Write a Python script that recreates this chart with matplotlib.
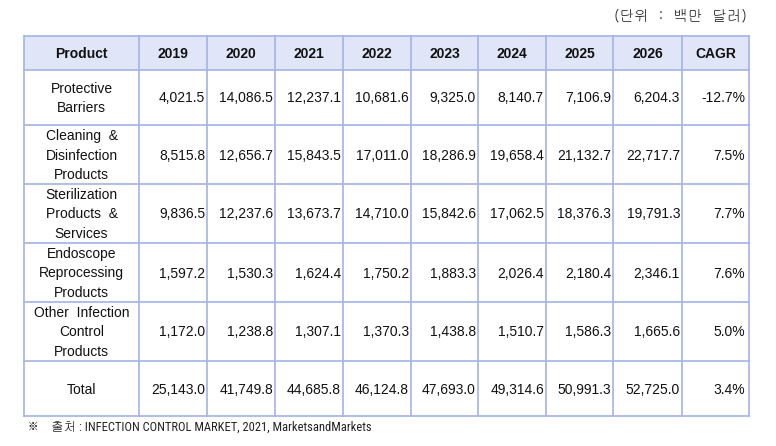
import matplotlib
matplotlib.use("Agg")
import matplotlib.pyplot as plt
from matplotlib.patches import Rectangle

products = ["Protective\nBarriers", "Cleaning  &\nDisinfection\nProducts",
            "Sterilization\nProducts  &\nServices", "Endoscope\nReprocessing\nProducts",
            "Other  Infection\nControl\nProducts", "Total"]
years = ["2019", "2020", "2021", "2022", "2023", "2024", "2025", "2026"]
values = [
    [4021.5, 14086.5, 12237.1, 10681.6, 9325.0, 8140.7, 7106.9, 6204.3],
    [8515.8, 12656.7, 15843.5, 17011.0, 18286.9, 19658.4, 21132.7, 22717.7],
    [9836.5, 12237.6, 13673.7, 14710.0, 15842.6, 17062.5, 18376.3, 19791.3],
    [1597.2, 1530.3, 1624.4, 1750.2, 1883.3, 2026.4, 2180.4, 2346.1],
    [1172.0, 1238.8, 1307.1, 1370.3, 1438.8, 1510.7, 1586.3, 1665.6],
    [25143.0, 41749.8, 44685.8, 46124.8, 47693.0, 49314.6, 50991.3, 52725.0],
]
cagr = ["-12.7%", "7.5%", "7.7%", "7.6%", "5.0%", "3.4%"]
header = ["Product"] + years + ["CAGR"]
unit_note = "(단위  :  백만  달러)"
source_note = "※    출처 : INFECTION CONTROL MARKET, 2021, MarketsandMarkets"

col_x = [24, 139, 207, 275, 343, 411, 478, 546, 613, 682, 749]
row_y = [36, 70, 125, 184, 243, 302, 361, 416]
border = "#a3b3e6"
head_fill = "#e0e6f8"
fam = "Liberation Sans"

fig = plt.figure(figsize=(7.76, 4.46), dpi=100)
ax = fig.add_axes([0, 0, 1, 1])
ax.set_xlim(0, 776)
ax.set_ylim(446, 0)
ax.axis("off")

ax.add_patch(Rectangle((col_x[0], row_y[0]), col_x[-1] - col_x[0], row_y[1] - row_y[0],
                       facecolor=head_fill, edgecolor="none", zorder=0))
for x in col_x:
    ax.plot([x, x], [row_y[0], row_y[-1]], color=border, lw=1.2, zorder=2)
for y in row_y:
    ax.plot([col_x[0], col_x[-1]], [y, y], color=border, lw=1.2, zorder=2)

for i, h in enumerate(header):
    cx = (col_x[i] + col_x[i + 1]) / 2
    cy = (row_y[0] + row_y[1]) / 2
    ax.text(cx, cy + 1, h, ha="center", va="center", fontsize=10, fontweight="bold",
            family=fam, color="#111111")

for r, prod in enumerate(products):
    cy = (row_y[r + 1] + row_y[r + 2]) / 2 + 1
    ax.text((col_x[0] + col_x[1]) / 2, cy, prod, ha="center", va="center", fontsize=10,
            family=fam, linespacing=1.5, color="#111111")
    for c, v in enumerate(values[r]):
        ax.text(col_x[c + 2] - 2, cy, f"{v:,.1f}", ha="right", va="center", fontsize=10,
                family=fam, color="#111111")
    ax.text(col_x[-1] - 4, cy, cagr[r], ha="right", va="center", fontsize=10,
            family=fam, color="#111111")

ax.text(747, 16, unit_note, ha="right", va="center", fontsize=10.5,
        family=["Gulim", "Noto Sans CJK KR", "DejaVu Sans"], color="#222222")
ax.text(27, 427, source_note, ha="left", va="center", fontsize=9,
        family=["Roboto Condensed", "Gulim", "Noto Sans CJK KR", "DejaVu Sans"], color="#222222")

fig.savefig("out.png", dpi=100)
